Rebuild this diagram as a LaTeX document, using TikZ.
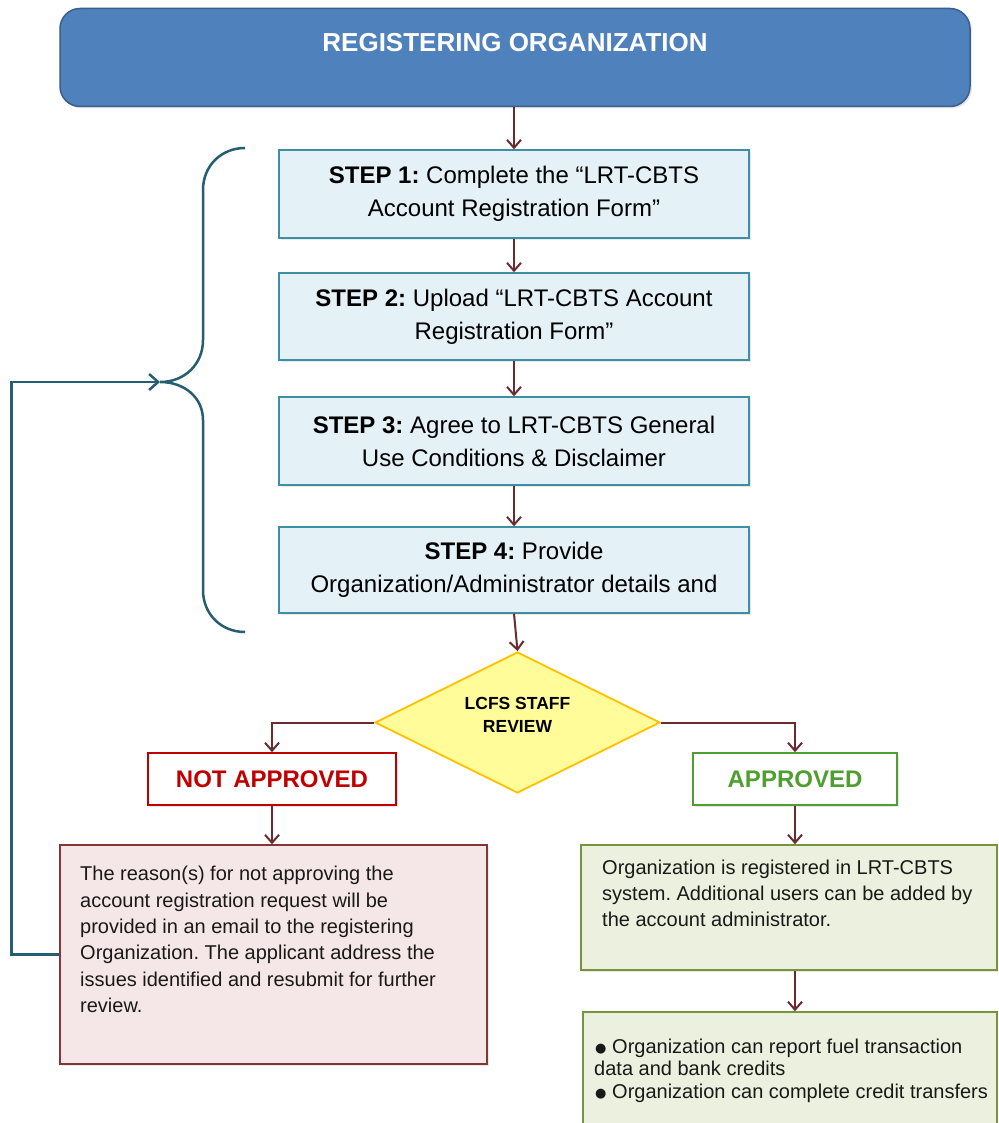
\documentclass[tikz,border=0pt]{standalone}
\usepackage{fontspec}
\setmainfont{Liberation Sans}
\newfontfamily\bulfont{DejaVu Sans}
\usetikzlibrary{arrows.meta,shapes.geometric,shadows}
\definecolor{bannerfill}{HTML}{4F81BD}
\definecolor{bannerdraw}{HTML}{3A5F8C}
\definecolor{stepfill}{HTML}{E4F1F6}
\definecolor{stepdraw}{HTML}{3E8EA5}
\definecolor{arrowred}{HTML}{6B2A2E}
\definecolor{bracecol}{HTML}{255E70}
\definecolor{diafill}{HTML}{FFFC99}
\definecolor{diadraw}{HTML}{FFC000}
\definecolor{nared}{HTML}{C00000}
\definecolor{apgreen}{HTML}{4E9F30}
\definecolor{pinkfill}{HTML}{F5E7E7}
\definecolor{pinkdraw}{HTML}{843636}
\definecolor{greenfill}{HTML}{EBF1DE}
\definecolor{greendraw}{HTML}{77933C}
\newcommand{\mybul}{\makebox[18pt][l]{\hspace*{1pt}\raisebox{1pt}{\bulfont\fontsize{13}{13}\selectfont ●}}}
\frenchspacing
\begin{document}
\frenchspacing
\begin{tikzpicture}[x=1pt,y=-1pt,
  shade/.style={drop shadow={shadow xshift=2pt,shadow yshift=-2pt,opacity=0.18}},
  banner/.style={rectangle, rounded corners=20pt, fill=bannerfill, draw=bannerdraw, line width=1.5pt, minimum width=910pt, minimum height=98pt, inner sep=0pt, shade},
  bannertext/.style={text=white, font=\fontsize{26}{30}\selectfont\bfseries, inner sep=0pt},
  stepbox/.style={rectangle, fill=stepfill, draw=stepdraw, line width=1.4pt, minimum width=470pt, align=center, font=\frenchspacing\fontsize{24}{33}\selectfont, inner sep=0pt, shade},
  decision/.style={diamond, fill=diafill, draw=diadraw, line width=1.8pt, minimum width=285pt, minimum height=141pt, inner sep=0pt},
  diatext/.style={align=center, font=\fontsize{17.5}{23}\selectfont\bfseries, inner sep=0pt},
  nabox/.style={rectangle, fill=white, draw=nared, line width=1.6pt, minimum width=248pt, minimum height=52pt, text=nared, font=\fontsize{24}{28}\selectfont\bfseries, inner sep=0pt, shade},
  apbox/.style={rectangle, fill=white, draw=apgreen, line width=1.6pt, minimum width=204pt, minimum height=52pt, text=apgreen, font=\fontsize{24}{28}\selectfont\bfseries, inner sep=0pt, shade},
  pinkbox/.style={rectangle, fill=pinkfill, draw=pinkdraw, line width=1.4pt, minimum width=427pt, minimum height=219pt, inner sep=0pt, shade},
  greenbox/.style={rectangle, fill=greenfill, draw=greendraw, line width=1.6pt, inner sep=0pt},
  bodytext/.style={align=left, inner sep=0pt, anchor=north west, text=black!90},
  arr/.style={draw=arrowred, line width=2pt, -{Straight Barb[length=8pt,width=14pt,line width=2pt]}},
  fb/.style={draw=bracecol, line width=2.5pt, -{Straight Barb[length=9pt,width=16pt,line width=2.5pt]}},
  bracepath/.style={draw=bracecol, line width=2.5pt}
]
\clip (0,0) rectangle (998,1123);
\fill[white] (0,0) rectangle (998,1123);

% banner
\node[banner] (banner) at (515,57.5) {};
\node[bannertext] (title) at (515,43) {REGISTERING ORGANIZATION};

% steps
\node[stepbox, minimum height=88pt] (s1) at (514,194) {\textbf{STEP 1:} Complete the “LRT-CBTS\\Account Registration Form”};
\node[stepbox, minimum height=87pt] (s2) at (514,316.5) {\textbf{STEP 2:} Upload “LRT-CBTS Account\\Registration Form”};
\node[stepbox, minimum height=88pt] (s3) at (514,441) {\textbf{STEP 3:} Agree to LRT-CBTS General\\Use Conditions \& Disclaimer};
\node[stepbox, minimum height=86pt] (s4) at (514,570) {\textbf{STEP 4:} Provide\\Organization/Administrator details and};

% decision
\node[decision] (dia) at (517.5,722.5) {};
\node[diatext] (diat) at (517.5,715) {LCFS STAFF\\REVIEW};

% outcomes
\node[nabox] (na) at (272,779) {NOT APPROVED};
\node[apbox] (ap) at (795,779) {APPROVED};

\node[pinkbox] (pink) at (273.5,954.5) {};
\node[bodytext, font=\frenchspacing\fontsize{20}{26.4}\selectfont] (pinkt) at (80,866) {The reason(s) for not approving the\\account registration request will be\\provided in an email to the registering\\Organization. The applicant address the\\issues identified and resubmit for further\\review.};

\node[greenbox, minimum width=416pt, minimum height=125pt, shade] (g1) at (789,907.5) {};
\node[bodytext, font=\frenchspacing\fontsize{20}{26}\selectfont] (g1t) at (602,859.5) {Organization is registered in LRT-CBTS\\system. Additional users can be added by\\the account administrator.};

\node[greenbox, minimum width=414pt, minimum height=130pt] (g2) at (790,1077) {};
\node[bodytext, font=\frenchspacing\fontsize{20}{22.5}\selectfont] (g2t) at (594,1038.5) {\mybul Organization can report fuel transaction\\data and bank credits\\\mybul Organization can complete credit transfers};

% connectors
\draw[arr] (banner.south -| s1.north) -- (s1.north);
\draw[arr] (s1.south) -- (s2.north);
\draw[arr] (s2.south) -- (s3.north);
\draw[arr] (s3.south) -- (s4.north);
\draw[arr] (s4.south) -- (dia.north);
\draw[arr] (dia.west) -| (na.north);
\draw[arr] (dia.east) -| (ap.north);
\draw[arr] (na.south) -- (na.south |- pink.north);
\draw[arr] (ap.south) -- (ap.south |- g1.north);
\draw[arr] (ap.south |- g1.south) -- (ap.south |- g2.north);

% brace
\coordinate (tip) at (160,382);
\draw[bracepath] (245,148) .. controls (221,148) and (203,166) .. (203,190)
  -- (203,340) .. controls (203,364) and (185,382) .. (tip)
  .. controls (185,382) and (203,398) .. (203,420)
  -- (203,590) .. controls (203,614) and (221,632) .. (245,632);

% feedback loop
\draw[fb] (pink.west) -- ++(-48,0) |- (tip);
\end{tikzpicture}
\end{document}
